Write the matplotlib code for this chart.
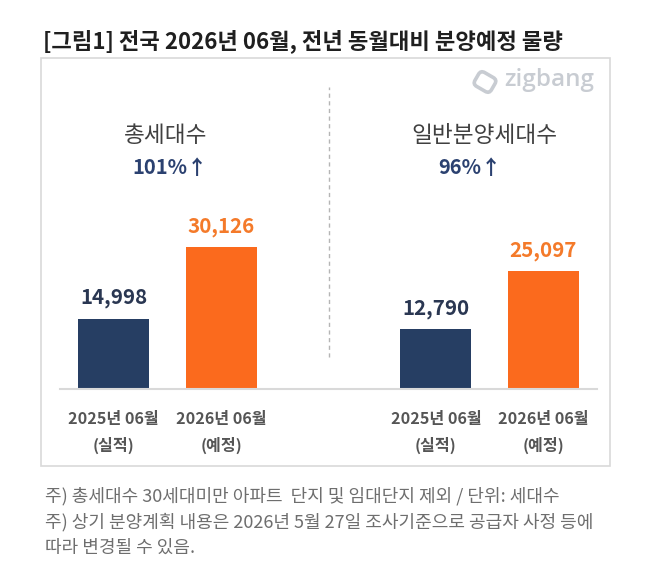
import matplotlib
matplotlib.use('Agg')
import matplotlib.pyplot as plt
from matplotlib.patches import Rectangle, FancyBboxPatch
from matplotlib.transforms import Affine2D

plt.rcParams['font.family'] = ['Noto Sans CJK KR', 'DejaVu Sans']

# 데이터
groups = ['총세대수', '일반분양세대수']
growth = ['101%↑', '96%↑']
periods = ['2025년 06월\n(실적)', '2026년 06월\n(예정)']
values_2025 = [14998, 12790]
values_2026 = [30126, 25097]
notes = ['주) 총세대수 30세대미만 아파트  단지 및 임대단지 제외 / 단위: 세대수',
         '주) 상기 분양계획 내용은 2026년 5월 27일 조사기준으로 공급자 사정 등에',
         '따라 변경될 수 있음.']

NAVY = '#263e63'
ORANGE = '#fb6a1d'

W, H = 667, 567
fig = plt.figure(figsize=(W / 100, H / 100), dpi=100)


def fx(px):
    return px / W


def fy(py):
    return 1 - py / H


# 제목
fig.text(fx(43), fy(41), '[그림1] 전국 2026년 06월, 전년 동월대비 분양예정 물량',
         fontsize=16, fontweight='bold', color='#1f1f1f', va='center', ha='left')

# 테두리 박스
fig.patches.append(Rectangle((fx(41), fy(466)), fx(610) - fx(41), fy(58) - fy(466),
                             transform=fig.transFigure, fill=False,
                             edgecolor='#d9d9d9', linewidth=1.2))

# 막대 그래프
ax = fig.add_axes([fx(60), fy(389), fx(597) - fx(60), fy(60) - fy(389)])
xs = []
heights = []
colors = []
for i in range(len(groups)):
    base = i * 3
    xs += [base, base + 1]
    heights += [values_2025[i], values_2026[i]]
    colors += [NAVY, ORANGE]

bars = ax.bar(xs, heights, width=0.66, color=colors)
ax.set_xlim(-0.5, 4.5)
ax.set_ylim(0, 70000)

for b, h, c in zip(bars, heights, colors):
    tc = '#2a3752' if c == NAVY else '#f47a2a'
    ax.annotate(f'{h:,}', (b.get_x() + b.get_width() / 2, h), xytext=(0, 15),
                textcoords='offset points', ha='center', va='center',
                fontsize=14.8, fontweight='bold', color=tc)

ax.set_xticks(xs, periods * len(groups), fontsize=11.6, fontweight='bold',
              color='#555555', linespacing=1.72)
ax.tick_params(axis='x', length=0, pad=16)
ax.set_yticks([])
for s in ['top', 'left', 'right']:
    ax.spines[s].set_visible(False)
ax.spines['bottom'].set_color('#d9d9d9')
ax.spines['bottom'].set_linewidth(1.5)

# 가운데 점선
ax.axvline(2, ymin=32 / 329, ymax=302 / 329, color='#b5b5b5', linewidth=1,
           linestyle=(0, (3, 2.5)))

# 그룹 제목과 증가율
title_x = [166, 484]
pct_x = [170, 470]
for i in range(len(groups)):
    fig.text(fx(title_x[i]), fy(135), groups[i], fontsize=16.3, color='#404040',
             ha='center', va='center')
    fig.text(fx(pct_x[i]), fy(168), growth[i], fontsize=14.5, fontweight='bold',
             color='#2b4170', ha='center', va='center')

# zigbang 로고
fig.text(fx(504), fy(80), 'zigbang', fontsize=17.5, family='Open Sans',
         fontweight='semibold', color='#c8ccd2', ha='left', va='center')
cx, cy = 485 / 100, (H - 82) / 100
rot = Affine2D().rotate_deg_around(cx, cy, -30) + fig.dpi_scale_trans
logo = FancyBboxPatch((cx - 0.095, cy - 0.08), 0.19, 0.16,
                      boxstyle='round,pad=0,rounding_size=0.045',
                      fill=False, edgecolor='#c8ccd2', linewidth=2.6, transform=rot)
fig.patches.append(logo)

# 주석
for k, line in enumerate(notes):
    fig.text(fx(45), fy(496 + 26 * k), line, fontsize=13, color='#6e6e6e',
             ha='left', va='center')

fig.savefig('out.png', dpi=100)
